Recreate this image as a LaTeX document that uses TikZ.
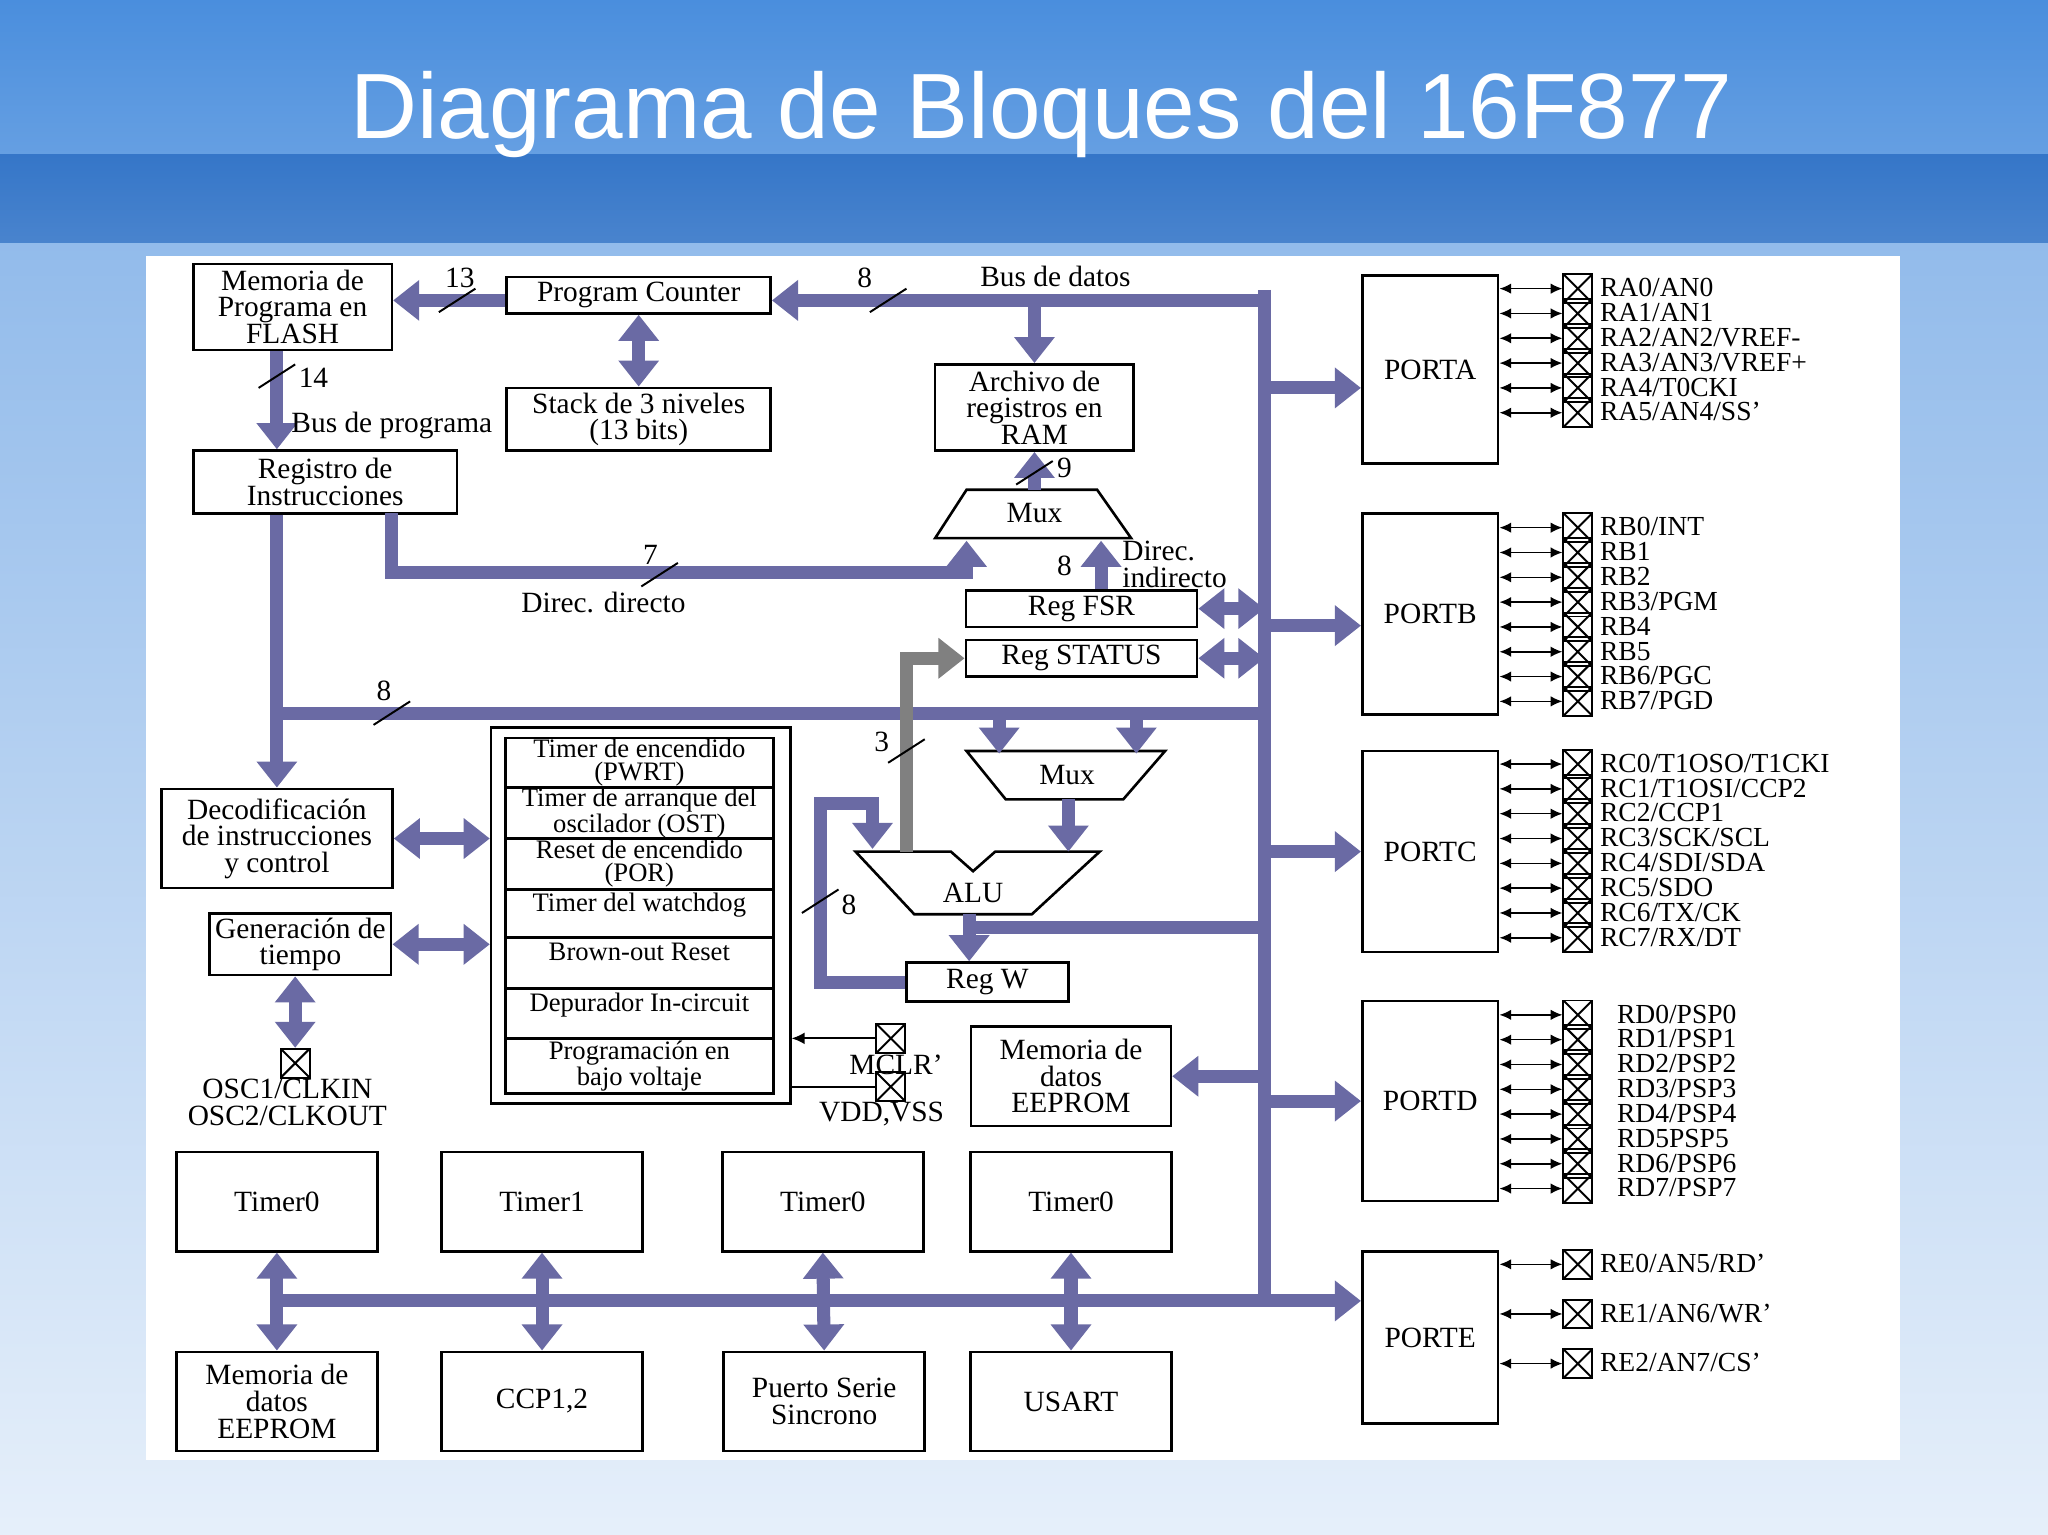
\documentclass[tikz,border=0pt]{standalone}
\usepackage{fontspec}
\setmainfont{Liberation Serif}
\newfontfamily\titlefont{Liberation Sans}
\usetikzlibrary{arrows.meta,calc}
\definecolor{busc}{HTML}{6A6AA4}
\definecolor{bandA}{HTML}{4A8EDD}
\definecolor{bandB}{HTML}{3576C8}
\newlength\px
\setlength\px{0.025cm}
\newcommand\dfont{\fontsize{16}{14.5}\selectfont}
\newcommand\sfont{\fontsize{14.5}{12.5}\selectfont}
\tikzset{
    blk/.style={draw, line width=2\px, fill=white, align=center, inner sep=0, font=\dfont},
    bus/.style={draw=busc, line width=10\px},
    busar/.style={bus, -{Triangle[length=14.2pt,width=21.3pt]}},
    busdbl/.style={bus, {Triangle[length=14.2pt,width=21.3pt]}-{Triangle[length=14.2pt,width=21.3pt]}},
    pin/.style={line width=1.2\px, {Latex[length=6.4pt,width=5.7pt]}-{Latex[length=6.4pt,width=5.7pt]}},
    xbox/.style={draw, line width=1.5\px, minimum size=22\px, inner sep=0,
        path picture={\draw (path picture bounding box.south west) -- (path picture bounding box.north east)
        (path picture bounding box.north west) -- (path picture bounding box.south east);}},
    lbl/.style={font=\dfont, inner sep=1\px},
    pinlbl/.style={font=\fontsize{15}{15}\selectfont, inner sep=0, anchor=west, text height=10pt, text depth=1pt},
}
% slash on a bus line
\newcommand\cut[2]{\draw[line width=1.5\px] (#1-14,#2+9) -- (#1+14,#2-9);}

\begin{document}
\begin{tikzpicture}[x=0.025cm, y=-0.025cm]
    % background
    \useasboundingbox (0,0) rectangle (1568,1175);
    \fill[bottom color=white!80!bandA!70!white, top color=bandA!60!white] (0,186) rectangle (1568,1175);
    \fill[top color=bandA, bottom color=bandA!85!white] (0,0) rectangle (1568,118);
    \fill[top color=bandB, bottom color=bandB!90!white] (0,118) rectangle (1568,186);
    \node[text=white, font=\titlefont\fontsize{50.5}{60}\selectfont] (title) at (797,88) {Diagrama de Bloques del 16F877};
    \fill[white] (112,196) rectangle (1455,1118);

    % blocks
    \node[blk, minimum width=152\px, minimum height=66\px] (flash) at (224,235) {Memoria de\\Programa en\\FLASH};
    \node[blk, minimum width=202\px, minimum height=28\px] (pc) at (489,226) {Program Counter};
    \node[blk, minimum width=202\px, minimum height=48\px] (stack) at (489,321) {Stack de 3 niveles\\(13 bits)};
    \node[blk, minimum width=152\px, minimum height=66\px] (ram) at (792,312) {Archivo de\\registros en\\RAM};
    \node[blk, minimum width=202\px, minimum height=48\px] (ir) at (249,369) {Registro de\\Instrucciones};
    \node[blk, minimum width=177\px, minimum height=28\px] (fsr) at (828,466) {Reg FSR};
    \node[blk, minimum width=177\px, minimum height=28\px] (status) at (828,504) {Reg STATUS};
    \node[blk, minimum width=124\px, minimum height=30\px] (regw) at (756,752) {Reg W};
    \node[blk, minimum width=177\px, minimum height=76\px] (decod) at (212,642) {Decodificación\\de instrucciones\\y control};
    \node[blk, minimum width=139\px, minimum height=47\px] (gen) at (230,723) {Generación de\\tiempo};
    \node[blk, minimum width=153\px, minimum height=76\px] (eeprom) at (820,824) {Memoria de\\datos\\EEPROM};

    % timers list
    \node[blk, minimum width=229\px, minimum height=288\px] (tl) at (490.5,701) {};
    \foreach \ya/\yb/\t [count=\i] in {565/603/Timer de encendido\\(PWRT), 603/642/Timer de arranque del\\oscilador (OST),
        642/681/Reset de encendido\\(POR), 681/718/Timer del watchdog\\{}, 718/757/Brown-out Reset\\{},
        757/795/Depurador In-circuit\\{}, 795/837/Programación en\\bajo voltaje}
        \node[blk, font=\sfont, minimum width=205\px, minimum height={(\yb-\ya)*\px}] (t\i) at (489.5,{(\ya+\yb)/2}) {\t};

    % peripherals
    \foreach \n/\x/\t in {tma/212/Timer0, tmb/415/Timer1, tmc/630/Timer0, tmd/820/Timer0}
        \node[blk, minimum width=154\px, minimum height=76\px] (\n) at (\x,920) {\t};
    \foreach \n/\x/\t in {pea/212/{Memoria de\\datos\\EEPROM}, peb/415/CCP1{,}2, pec/631/{Puerto Serie\\Sincrono}, ped/820/USART}
        \node[blk, minimum width=154\px, minimum height=76\px] (\n) at (\x,1073) {\t};

    % ports
    \node[blk, minimum width=104\px, minimum height=144\px] (porta) at (1095,283) {PORTA};
    \node[blk, minimum width=104\px, minimum height=154\px] (portb) at (1095,470) {PORTB};
    \node[blk, minimum width=104\px, minimum height=154\px] (portc) at (1095,652) {PORTC};
    \node[blk, minimum width=104\px, minimum height=153\px] (portd) at (1095,843) {PORTD};
    \node[blk, minimum width=104\px, minimum height=132\px] (porte) at (1095,1024) {PORTE};

    % pins
    \foreach \t [count=\i, evaluate=\i as \y using 221+19*(\i-1)] in {RA0/AN0,RA1/AN1,RA2/AN2/VREF-,RA3/AN3/VREF+,RA4/T0CKI,RA5/AN4/SS'} {
        \node[xbox] (pa\i) at (1208,\y) {};
        \draw[pin] (porta.east |- pa\i.west) -- (pa\i.west);
        \node[pinlbl, xshift=5\px] at (pa\i.east) {\t};
    }
    \foreach \t [count=\i, evaluate=\i as \y using 404+19*(\i-1)] in {RB0/INT,RB1,RB2,RB3/PGM,RB4,RB5,RB6/PGC,RB7/PGD} {
        \node[xbox] (pb\i) at (1208,\y) {};
        \draw[pin] (portb.east |- pb\i.west) -- (pb\i.west);
        \node[pinlbl, xshift=5\px] at (pb\i.east) {\t};
    }
    \foreach \t [count=\i, evaluate=\i as \y using 585+19*(\i-1)] in {RC0/T1OSO/T1CKI,RC1/T1OSI/CCP2,RC2/CCP1,RC3/SCK/SCL,RC4/SDI/SDA,RC5/SDO,RC6/TX/CK,RC7/RX/DT} {
        \node[xbox] (pcx\i) at (1208,\y) {};
        \draw[pin] (portc.east |- pcx\i.west) -- (pcx\i.west);
        \node[pinlbl, xshift=5\px] at (pcx\i.east) {\t};
    }
    \foreach \t [count=\i, evaluate=\i as \y using 777+19*(\i-1)] in {RD0/PSP0,RD1/PSP1,RD2/PSP2,RD3/PSP3,RD4/PSP4,RD5PSP5,RD6/PSP6,RD7/PSP7} {
        \node[xbox] (pd\i) at (1208,\y) {};
        \draw[pin] (portd.east |- pd\i.west) -- (pd\i.west);
        \node[pinlbl, xshift=18\px] at (pd\i.east) {\t};
    }
    \foreach \t [count=\i, evaluate=\i as \y using 968+38*(\i-1)] in {RE0/AN5/RD',RE1/AN6/WR',RE2/AN7/CS'} {
        \node[xbox] (pe\i) at (1208,\y) {};
        \draw[pin] (porte.east |- pe\i.west) -- (pe\i.west);
        \node[pinlbl, xshift=5\px] at (pe\i.east) {\t};
    }

    % mux, alu
    \draw[line width=2\px] (740,375) -- (840,375) -- (866,412) -- (716,412) -- cycle;
    \node[lbl] (mux1) at (792,393) {Mux};
    \draw[line width=2\px] (740,575) -- (892,575) -- (860,612) -- (770,612) -- cycle;
    \node[lbl] (mux2) at (817,593) {Mux};
    \draw[line width=2\px] (655,652) -- (728,652) -- (745,667) -- (762,652) -- (842,652) -- (790,700) -- (700,700) -- cycle;
    \node[lbl] (alu) at (745,684) {ALU};

    \coordinate (dtop) at (968,230);
    \coordinate (dbot) at (968,996);
    \coordinate (lx) at (212,0);
    \coordinate (m1top) at (792,375);
    \coordinate (m1l) at (740,414);
    \coordinate (m1r) at (843,414);
    \coordinate (irout) at (300,393);
    \coordinate (aluout) at (742,700);
    \coordinate (aluin) at (668,650);
    \coordinate (aluup) at (694,652);
    \coordinate (pain) at ($(porta.west)+(0,14)$);
    \coordinate (pbin) at ($(portb.west)+(0,9)$);
    \coordinate (pein) at ($(porte.west)+(0,-28)$);
    \coordinate (alubus) at ($(aluout)+(0,10)$);

    % buses
    \draw[bus] (968,222) -- (968,1001);
    \draw[busar] (dtop) -- (dtop -| pc.east);
    \draw[busar] (dtop -| ram.north) -- (ram.north);
    \draw[busar] (pc.west |- dtop) -- (flash.east |- dtop);
    \draw[busdbl] (pc.south) -- (stack.north);
    \draw[busar] (flash.south -| lx) -- (ir.north -| lx);
    \draw[busar] (ir.south -| lx) -- (decod.north -| lx);
    \draw[busar] (m1top) -- (ram.south);
    \draw[busar] (irout) |- ($(m1l)+(0,24)$) -- (m1l);
    \draw[busar] (fsr.north -| m1r) -- (m1r);
    \draw[busdbl] (fsr.east) -- (fsr.east -| dtop);
    \draw[busdbl] (status.east) -- (status.east -| dtop);
    \draw[bus] (212,546) -- (968,546);
    \draw[busar] (765,546) -- (765,577);
    \draw[busar] (870,546) -- (870,577);
    \draw[busar] (818,612) -- (818,652);
    \draw[busar] (aluout) -- (regw.north -| aluout);
    \draw[bus] (alubus) -- (alubus -| dtop);
    \draw[busar] (regw.west) -| (628,615) -| (aluin);
    \draw[bus, draw=gray, -{Triangle[length=14.2pt,width=21.3pt]}] (aluup) |- (status.west);
    \draw[busdbl] (decod.east) -- (decod.east -| tl.west);
    \draw[busdbl] (gen.east) -- (gen.east -| tl.west);
    \draw[busar] (eeprom.east -| dtop) -- (eeprom.east);
    \draw[bus] (212,996) -- (dbot);
    \foreach \a/\b in {tma/pea, tmb/peb, tmc/pec, tmd/ped}
        \draw[busdbl] (\a.south) -- (\b.north);
    \draw[busar] (pain -| dtop) -- (pain);
    \draw[busar] (pbin -| dtop) -- (pbin);
    \draw[busar] (portc.west -| dtop) -- (portc.west);
    \draw[busar] (portd.west -| dtop) -- (portd.west);
    \draw[busar] (pein -| dtop) -- (pein);

    % oscillator and reset pins
    \node[xbox] (osc) at (226,814) {};
    \draw[busdbl] (gen.south -| osc.north) -- (osc.north);
    \node[lbl, align=center] (osclbl) at (220,844) {OSC1/CLKIN\\OSC2/CLKOUT};
    \node[xbox] (mclr) at (682,795) {};
    \node[xbox] (vdd) at (682,832) {};
    \draw[line width=1.5\px, -{Latex[length=7.1pt,width=6.4pt]}] (mclr.west) -- (mclr.west -| tl.east);
    \draw[line width=1.5\px] (vdd.west) -- (vdd.west -| tl.east);
    \node[lbl] (mclrlbl) at (686,815) {MCLR'};
    \node[lbl] (vddlbl) at (675,853) {VDD,VSS};

    % bus labels
    \node[lbl] at (352,213) {13}; \cut{350}{230}
    \node[lbl] at (240,289) {14}; \cut{212}{288}
    \node[lbl] at (662,213) {8}; \cut{680}{230}
    \node[lbl] at (808,212) {Bus de datos};
    \node[lbl] at (300,326) {Bus de programa};
    \node[lbl] at (815,358) {9}; \cut{792}{362}
    \node[lbl] at (498,425) {7}; \cut{505}{440}
    \node[lbl] at (462,461) {Direc. directo};
    \node[lbl] at (815,433) {8};
    \node[lbl, anchor=west, align=left] at (858,432) {Direc.\\indirecto};
    \node[lbl] at (294,529) {8}; \cut{300}{546}
    \node[lbl] at (675,568) {3}; \cut{694}{575}
    \node[lbl] at (650,693) {8}; \cut{628}{690}
\end{tikzpicture}
\end{document}
